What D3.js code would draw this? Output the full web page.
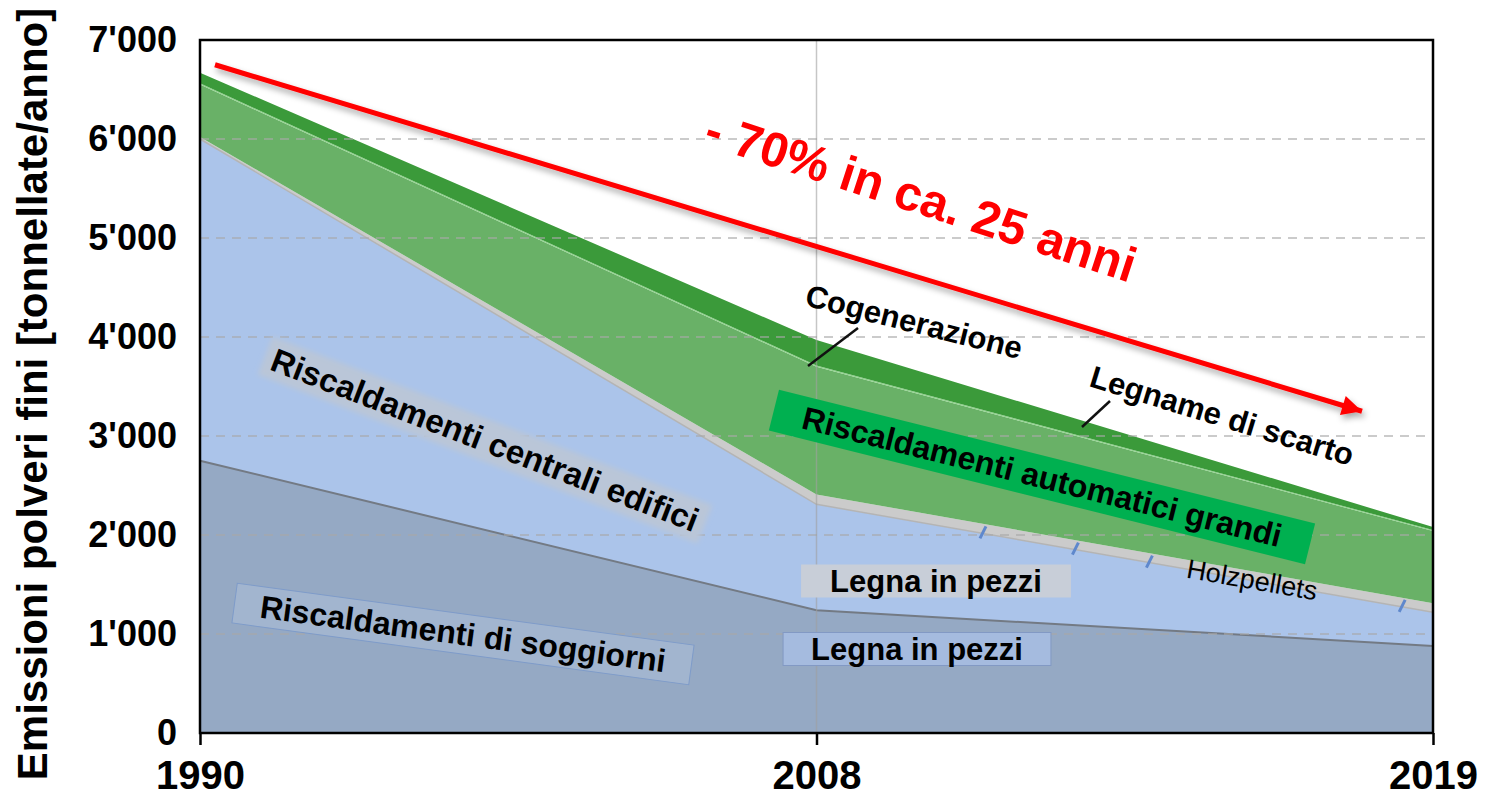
<!DOCTYPE html>
<html>
<head>
<meta charset="utf-8">
<script src="https://cdn.jsdelivr.net/npm/d3@7"></script>
<style>
  body { margin: 0; background: #fff; }
  svg { display: block; font-family: Arial, 'Liberation Sans', sans-serif; }
</style>
</head>
<body>
<svg id="chart" width="1486" height="799"></svg>
<script>
// data, bottom layer first (tonnes per year)
const years = ['1990', '2008', '2019'];
const soggiorni = [2750, 1240, 880];
const centrali = [3250, 1070, 340];
const holzpellets = [20, 100, 90];
const automatici = [530, 1290, 730];
const cogenerazione = [12, 12, 10];
const legname = [108, 258, 30];
const yTicks = [0, 1000, 2000, 3000, 4000, 5000, 6000, 7000];

const keys = ['soggiorni', 'centrali', 'holzpellets', 'automatici', 'cogenerazione', 'legname'];
const series = { soggiorni, centrali, holzpellets, automatici, cogenerazione, legname };
const colors = {
  soggiorni: '#95a9c4',
  centrali: '#abc4ea',
  holzpellets: '#cbcbcb',
  automatici: '#69b167',
  cogenerazione: '#8fd28c',
  legname: '#3b9a3a'
};

const rows = years.map((yr, i) => {
  const r = { year: yr };
  keys.forEach((k) => (r[k] = series[k][i]));
  return r;
});

const svg = d3.select('#chart');
const margin = { top: 40, right: 53, bottom: 66, left: 200 };
const W = 1486, H = 799;

const x = d3.scalePoint().domain(years).range([margin.left, W - margin.right]);
const y = d3.scaleLinear().domain([0, 7000]).range([H - margin.bottom, margin.top]);

const defs = svg.append('defs');
defs.append('filter').attr('id', 'shadow').attr('x', '-10%').attr('y', '-20%').attr('width', '130%').attr('height', '160%')
  .append('feDropShadow').attr('dx', 2).attr('dy', 4).attr('stdDeviation', 3)
  .attr('flood-color', '#000').attr('flood-opacity', 0.35);
defs.append('filter').attr('id', 'soft')
  .append('feGaussianBlur').attr('stdDeviation', 2.5);
defs.append('marker')
  .attr('id', 'head')
  .attr('markerUnits', 'userSpaceOnUse')
  .attr('viewBox', '0 0 10 10')
  .attr('refX', 10).attr('refY', 5)
  .attr('markerWidth', 26).attr('markerHeight', 20)
  .attr('orient', 'auto')
  .append('path').attr('d', 'M0,0L10,5L0,10Z').attr('fill', '#ff0000');

// stacked areas
const stacked = d3.stack().keys(keys)(rows);
const area = d3.area()
  .x((d) => x(d.data.year))
  .y0((d) => y(d[0]))
  .y1((d) => y(d[1]));

svg.append('g')
  .selectAll('path')
  .data(stacked)
  .join('path')
  .attr('d', area)
  .attr('fill', (d) => colors[d.key]);

// boundary lines
const topLine = d3.line().x((d) => x(d.data.year)).y((d) => y(d[1]));
svg.append('path').datum(stacked[0]).attr('d', topLine)
  .attr('fill', 'none').attr('stroke', '#737a84').attr('stroke-width', 2);
svg.append('path').datum(stacked[1]).attr('d', topLine)
  .attr('fill', 'none').attr('stroke', '#b4b4b4').attr('stroke-width', 1.5);

// small blue marks on the pellets band
const markAt = [0.27, 0.42, 0.54, 0.95];
markAt.forEach((f) => {
  const xv = x('2008') + f * (x('2019') - x('2008'));
  const v = (1 - f) * (stacked[1][1][1]) + f * (stacked[1][2][1]);
  svg.append('line')
    .attr('x1', xv - 3).attr('y1', y(v) + 5)
    .attr('x2', xv + 3).attr('y2', y(v) - 7)
    .attr('stroke', '#5f88cc').attr('stroke-width', 3);
});

// grid
svg.append('g')
  .selectAll('line')
  .data(yTicks.filter((t) => t > 0 && t < 7000))
  .join('line')
  .attr('x1', margin.left).attr('x2', W - margin.right)
  .attr('y1', (d) => y(d)).attr('y2', (d) => y(d))
  .attr('stroke', '#a8a8a8').attr('stroke-opacity', 0.6)
  .attr('stroke-width', 2).attr('stroke-dasharray', '9,7');
svg.append('line')
  .attr('x1', x('2008')).attr('x2', x('2008'))
  .attr('y1', margin.top).attr('y2', H - margin.bottom)
  .attr('stroke', '#a0a0a0').attr('stroke-opacity', 0.6).attr('stroke-width', 1.5);

// frame and axes
svg.append('rect')
  .attr('x', margin.left).attr('y', margin.top)
  .attr('width', W - margin.left - margin.right)
  .attr('height', H - margin.top - margin.bottom)
  .attr('fill', 'none').attr('stroke', '#000').attr('stroke-width', 2.5);

const fmt = d3.formatLocale({ thousands: "'", grouping: [3], decimal: '.', currency: ['', ''] }).format(',');

const yAxis = svg.append('g')
  .attr('transform', `translate(${margin.left},0)`)
  .call(d3.axisLeft(y).tickValues(yTicks).tickSize(0).tickPadding(23).tickFormat(fmt));
yAxis.select('.domain').remove();
yAxis.selectAll('text')
  .attr('font-size', 36).attr('font-weight', 'bold').attr('fill', '#000')
  .attr('font-family', "Arial, 'Liberation Sans', sans-serif");

const xAxis = svg.append('g')
  .attr('transform', `translate(0,${H - margin.bottom})`)
  .call(d3.axisBottom(x).tickSize(12).tickPadding(16));
xAxis.select('.domain').remove();
xAxis.selectAll('line').attr('stroke', '#000').attr('stroke-width', 2.5);
xAxis.selectAll('text')
  .attr('font-size', 40).attr('font-weight', 'bold').attr('fill', '#000')
  .attr('font-family', "Arial, 'Liberation Sans', sans-serif");

svg.append('text')
  .attr('transform', 'translate(47,394) rotate(-90)')
  .attr('text-anchor', 'middle')
  .attr('font-size', 42).attr('font-weight', 'bold')
  .text('Emissioni polveri fini [tonnellate/anno]');

// trend arrow
svg.append('line')
  .attr('x1', x('1990') + 15).attr('y1', y(6750))
  .attr('x2', x('2019') - 71).attr('y2', y(3250))
  .attr('stroke', '#ff0000').attr('stroke-width', 5)
  .attr('marker-end', 'url(#head)')
  .attr('filter', 'url(#shadow)');

// labels
function label(cx, cy, angle, text, o = {}) {
  const g = svg.append('g').attr('transform', `translate(${cx},${cy}) rotate(${angle})`);
  const t = g.append('text')
    .attr('text-anchor', 'middle')
    .attr('dominant-baseline', 'central')
    .attr('font-size', o.size || 32)
    .attr('font-weight', o.weight || 'bold')
    .attr('fill', o.color || '#000')
    .text(text);
  if (o.box) {
    const bb = t.node().getBBox();
    const px = o.padX || 14, py = o.padY || 2;
    g.insert('rect', 'text')
      .attr('x', bb.x - px).attr('y', bb.y - py)
      .attr('width', bb.width + 2 * px).attr('height', bb.height + 2 * py)
      .attr('fill', o.box)
      .attr('stroke', o.stroke || 'none')
      .attr('stroke-width', 1)
      .attr('filter', o.blur ? 'url(#soft)' : null);
  }
  return g;
}

label(921, 197, 18, '- 70% in ca. 25 anni', { size: 49, color: '#ff0000' });

// leader lines
svg.append('line').attr('x1', 858).attr('y1', 328).attr('x2', 808).attr('y2', 366)
  .attr('stroke', '#111').attr('stroke-width', 2.5);
svg.append('line').attr('x1', 1110).attr('y1', 401).attr('x2', 1082).attr('y2', 427)
  .attr('stroke', '#111').attr('stroke-width', 2.5);

label(914, 322, 14, 'Cogenerazione', { size: 31 });
label(1222, 416, 17, 'Legname di scarto', { size: 31 });
label(1042, 477, 14, 'Riscaldamenti automatici grandi', { size: 32, box: '#00b050', padX: 30, padY: 3 });
label(1252, 580, 10, 'Holzpellets', { size: 27, weight: 'normal' });
label(936, 581, 0, 'Legna in pezzi', { size: 31, box: '#c8ced8', padX: 29, padY: -1 });
label(917, 649, 0, 'Legna in pezzi', { size: 31, box: '#a5bbdf', stroke: '#8299c4', padX: 28, padY: -1 });
label(485, 440, 21, 'Riscaldamenti centrali edifici', { size: 33, box: '#bac6d8', padX: 8, padY: 0, blur: true });
label(463, 634, 7.7, 'Riscaldamenti di soggiorni', { size: 32, box: '#a2b5cf', stroke: '#7e9bc9', padX: 26, padY: 0 });
</script>
</body>
</html>
